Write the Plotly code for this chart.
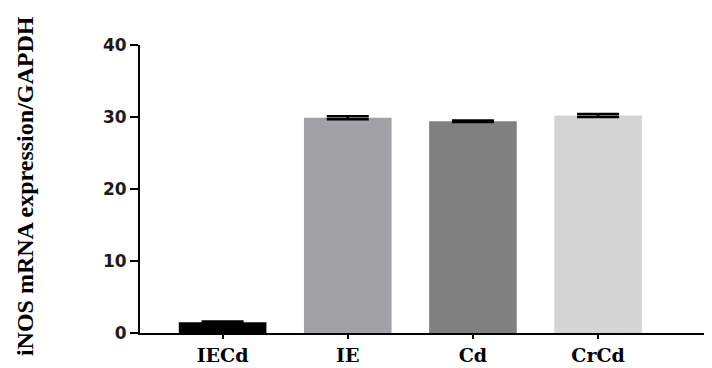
import plotly.graph_objects as go

categories = ["IECd", "IE", "Cd", "CrCd"]
values = [1.5, 29.9, 29.4, 30.2]
errors = [0.1, 0.2, 0.1, 0.2]
colors = ["#000000", "#a1a1a5", "#808080", "#d4d4d4"]
y_ticks = [0, 10, 20, 30, 40]

# page body has an 8px margin; size the figure to fill the rest of the window
W, H = 704, 360
L, T, B = 132, 37, 35

fig = go.Figure()
fig.add_trace(go.Bar(
    x=list(range(len(categories))), y=values,
    marker=dict(color=colors, line=dict(width=0)),
    width=0.7,
    error_y=dict(type="data", array=errors, visible=True, color="#000000",
                 thickness=2.5, width=21),
))
fig.update_layout(
    width=W, height=H,
    margin=dict(l=L, r=0, t=T, b=B),
    paper_bgcolor="white", plot_bgcolor="white",
    showlegend=False,
    xaxis=dict(
        tickmode="array", tickvals=list(range(len(categories))),
        ticktext=[f"<b>{c}</b>" for c in categories],
        range=[-0.66, 3.91], showline=True, linecolor="black", linewidth=2,
        ticks="outside", ticklen=4, tickwidth=2, tickcolor="black",
        tickfont=dict(family="DejaVu Serif", size=19, color="black"),
        showgrid=False, zeroline=False, automargin=False,
    ),
    yaxis=dict(
        range=[0, 40], tickmode="array", tickvals=y_ticks,
        ticktext=[f"<b>{v}</b>" for v in y_ticks],
        showline=True, linecolor="black", linewidth=2,
        ticks="outside", ticklen=8, tickwidth=2, tickcolor="black",
        tickfont=dict(family="DejaVu Sans", size=17, color="#1a1a1a"),
        showgrid=False, zeroline=False, automargin=False,
    ),
    annotations=[dict(
        text="<b>iNOS mRNA expression/GAPDH</b>", textangle=-90,
        xref="paper", yref="paper", x=(17 - L) / (W - L), y=0.51,
        xanchor="center", yanchor="middle", showarrow=False,
        font=dict(family="Liberation Serif", size=24, color="black"),
    )],
)
fig.write_html("out.html")
